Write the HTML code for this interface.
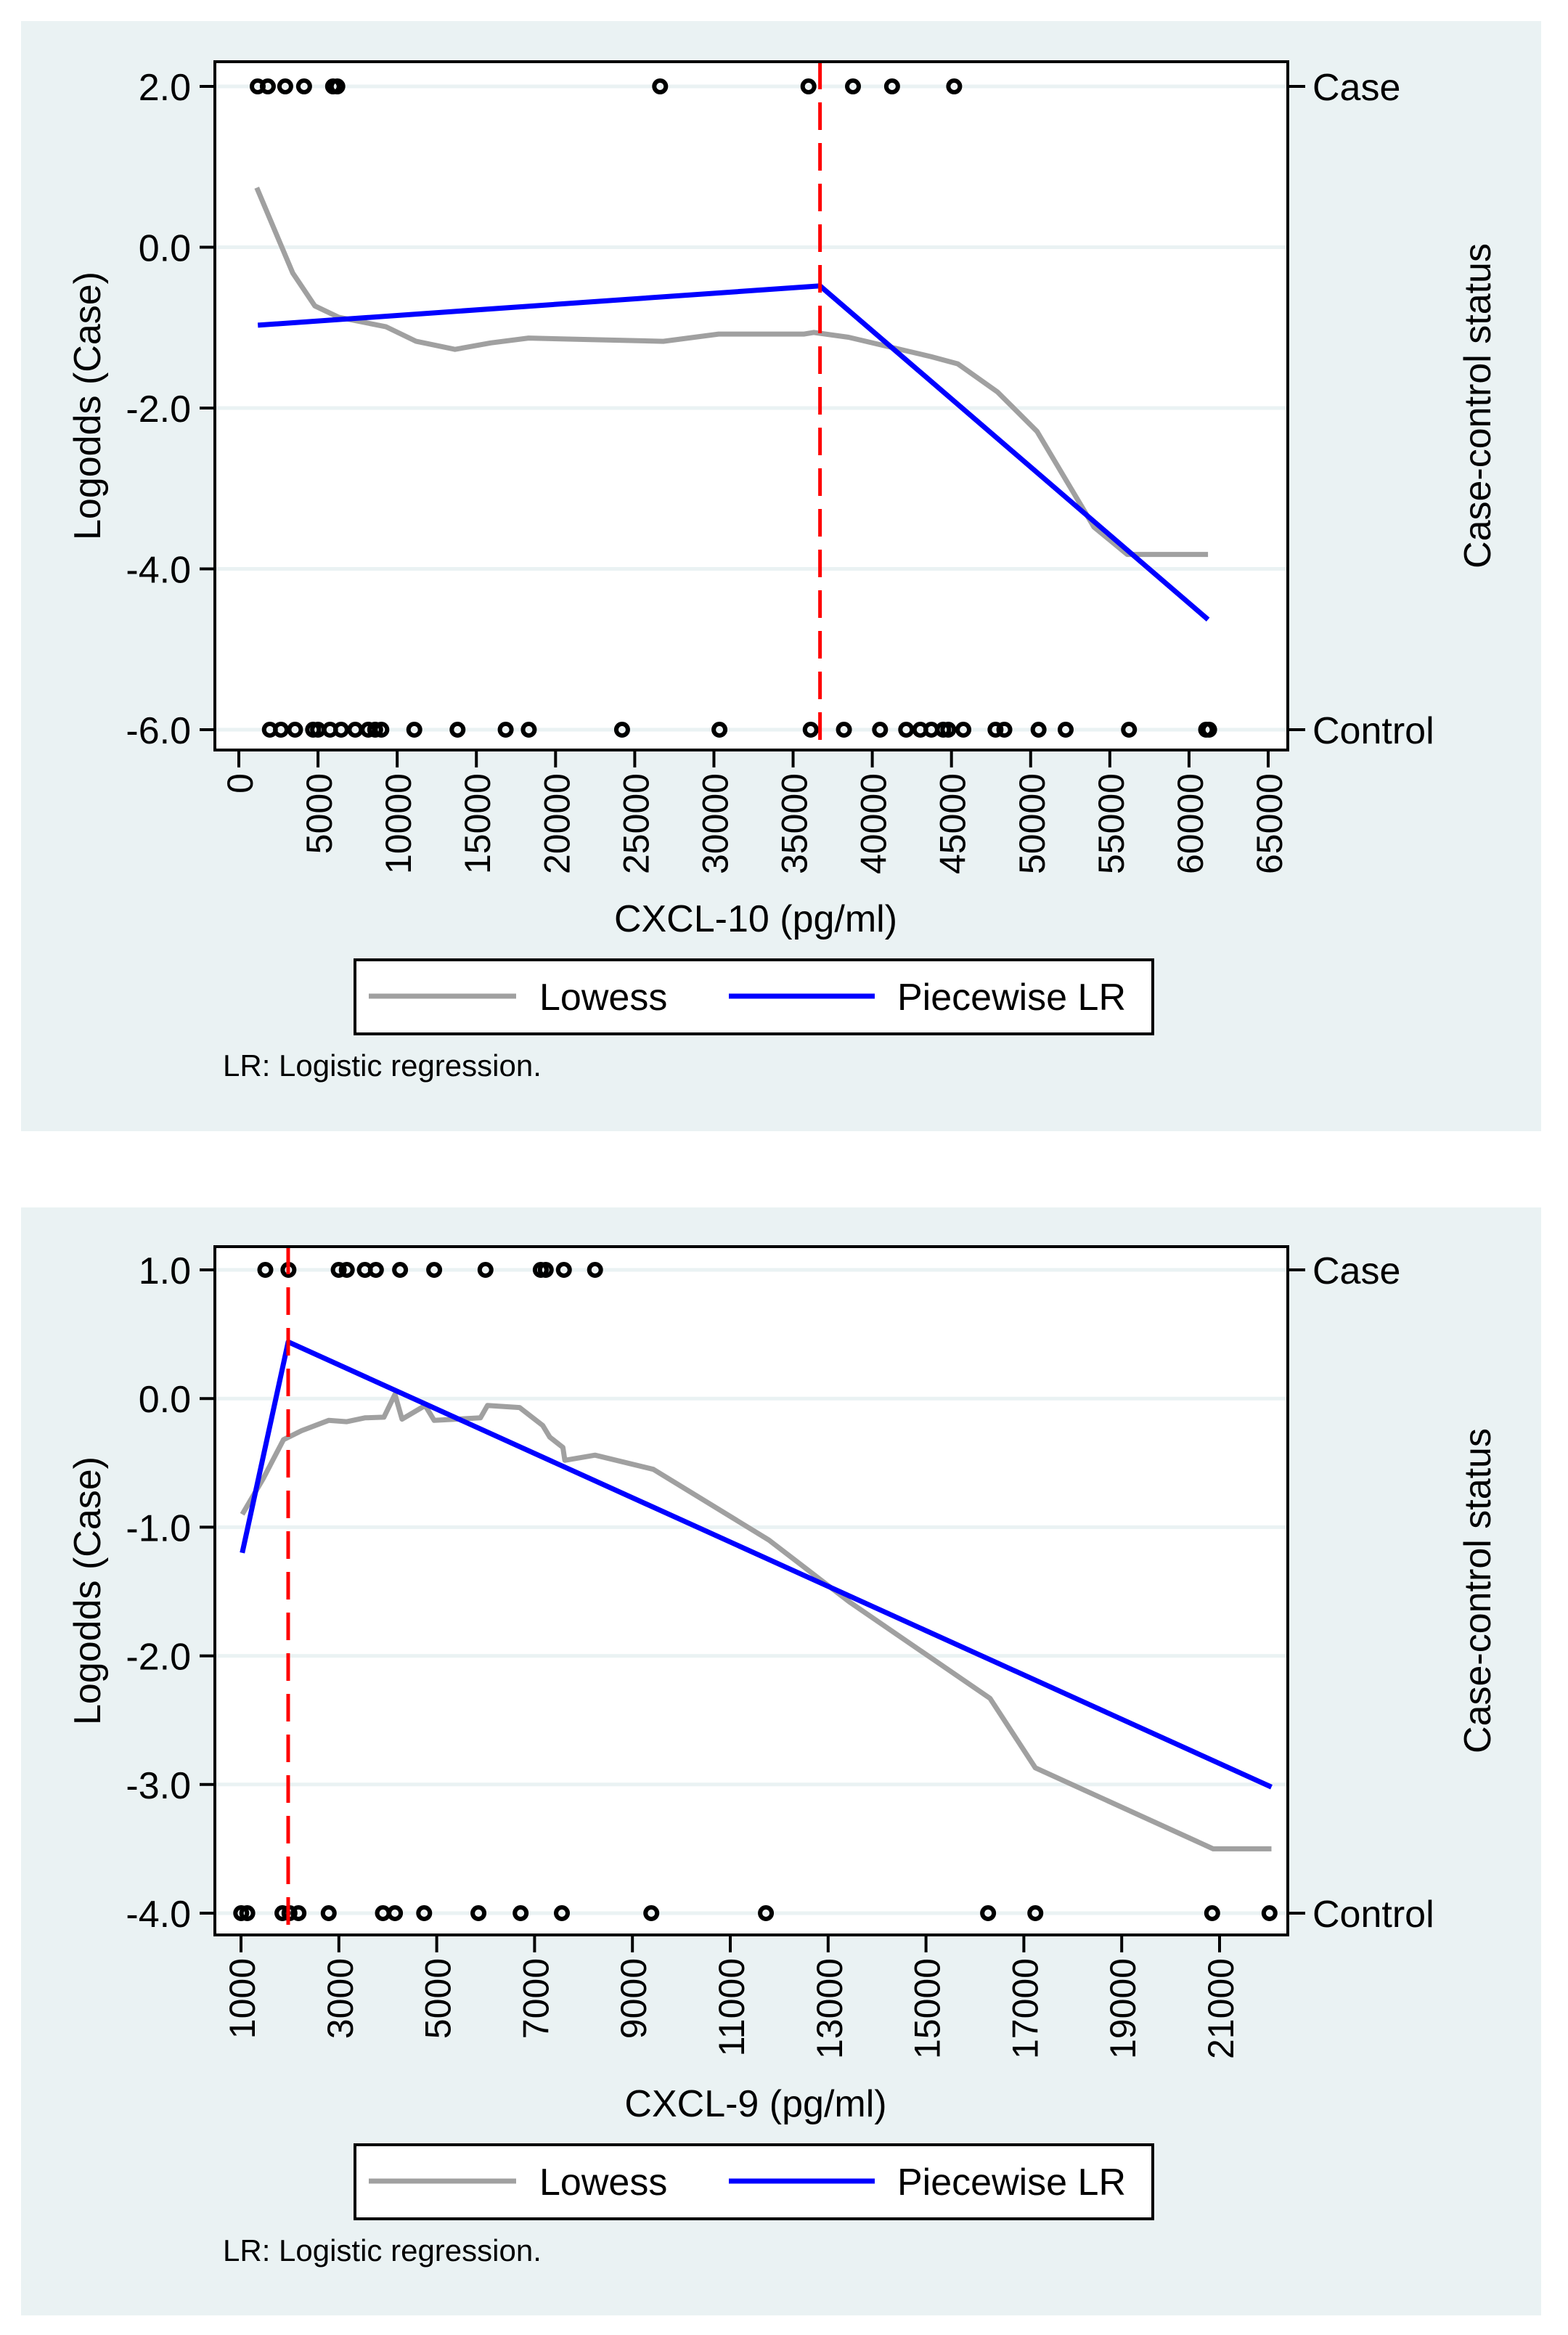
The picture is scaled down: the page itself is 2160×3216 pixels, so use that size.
<!DOCTYPE html>
<html><head><meta charset="utf-8"><style>
html,body{margin:0;padding:0;background:#fff;}
svg{display:block;}
text{font-family:"Liberation Sans",Arial,sans-serif;fill:#000;}
</style></head><body>
<svg id="fig" width="2160" height="3216" viewBox="0 0 2160 3216" xmlns="http://www.w3.org/2000/svg"></svg>
<script>
// ===== Panel A data (CXCL-10) =====
const aXTicks = [0,5000,10000,15000,20000,25000,30000,35000,40000,45000,50000,55000,60000,65000];
const aYTicks = [2,0,-2,-4,-6];
const aYTickLabels = ["2.0","0.0","-2.0","-4.0","-6.0"];
const aCaseX = [1190,1830,2930,4120,5950,6220,26600,35970,38780,41250,45170];
const aControlX = [1960,2660,3550,4690,5000,5760,6460,7350,8170,8610,9000,11080,13810,16850,18310,24200,30350,36110,38210,40490,42140,43030,43730,44480,44800,45750,47780,48340,50500,52210,56210,61080,61270];
const aLowessX = [1130,3400,4800,6300,9300,11200,13650,15900,18300,22500,26800,30300,35700,36300,38500,41300,43700,45400,47900,50400,54000,56100,61200];
const aLowessY = [0.74,-0.32,-0.73,-0.87,-0.99,-1.17,-1.27,-1.19,-1.13,-1.15,-1.17,-1.08,-1.08,-1.06,-1.12,-1.25,-1.36,-1.45,-1.80,-2.29,-3.48,-3.82,-3.82];
const aPieceX = [1200,36700,61200];
const aPieceY = [-0.97,-0.48,-4.63];
const aKnot = 36700;

// ===== Panel B data (CXCL-9) =====
const bXTicks = [1000,3000,5000,7000,9000,11000,13000,15000,17000,19000,21000];
const bYTicks = [1,0,-1,-2,-3,-4];
const bYTickLabels = ["1.0","0.0","-1.0","-2.0","-3.0","-4.0"];
const bCaseX = [1497,1970,2997,3162,3531,3757,4251,4948,5997,7126,7228,7599,8236];
const bControlX = [1004,1128,1847,1991,2175,2792,3901,4147,4743,5853,6715,7558,9386,11728,16269,17235,20849,22021];
const bLowessX = [1025,1457,1868,2237,2792,3162,3531,3922,4147,4291,4764,4948,5893,6037,6694,7168,7311,7579,7619,8236,9427,11789,13433,16309,17234,20869,22061];
const bLowessY = [-0.90,-0.62,-0.32,-0.25,-0.17,-0.18,-0.15,-0.145,0.033,-0.16,-0.054,-0.17,-0.15,-0.054,-0.07,-0.21,-0.30,-0.38,-0.48,-0.44,-0.55,-1.10,-1.58,-2.33,-2.87,-3.50,-3.50];
const bPieceX = [1025,1964,22061];
const bPieceY = [-1.2,0.44,-3.02];
const bKnot = 1964;

const NS = "http://www.w3.org/2000/svg";
const svg = document.getElementById('fig');
function mk(tag, attrs, parent, txt){
  const e = document.createElementNS(NS, tag);
  for (const k in attrs) e.setAttribute(k, attrs[k]);
  if (txt !== undefined) e.textContent = txt;
  (parent||svg).appendChild(e);
  return e;
}

function panel(o){
  const g = mk('g', {});
  
  
  const dy = o.dy;
  const bg = mk('rect', {x:29, y:o.bgTop, width:2094, height:o.bgH, fill:'#eaf2f3'}, g);
  
  
  const L=296, R=1774, T=85+dy, B=1033+dy;
  const pa = mk('rect', {x:L, y:T, width:R-L, height:B-T, fill:'#fff'}, g);
  
  
  const xs = v => o.x0 + (v - o.xv0) * (o.x1 - o.x0) / (o.xv1 - o.xv0);
  const ys = v => o.y0 + dy + (o.yv0 - v) * (o.y1 - o.y0) / (o.yv0 - o.yv1);
  o.yTicks.forEach((t,i)=>{
    const gl = mk('line', {x1:L, x2:R, y1:ys(t), y2:ys(t), stroke:'#eaf2f3', 'stroke-width':5}, g);
    
    
  });
  const lp = o.lx.map((x,i)=>xs(x).toFixed(1)+','+ys(o.ly[i]).toFixed(1)).join(' ');
  const lw = mk('polyline', {points:lp, fill:'none', stroke:'#a0a0a0', 'stroke-width':7, 'stroke-linejoin':'round'}, g);
  
  
  const pp = o.px.map((x,i)=>xs(x).toFixed(1)+','+ys(o.py[i]).toFixed(1)).join(' ');
  const pw = mk('polyline', {points:pp, fill:'none', stroke:'#0000ff', 'stroke-width':7, 'stroke-linejoin':'round'}, g);
  
  
  o.cx.forEach(x=>{
    const c = mk('circle', {cx:xs(x), cy:ys(o.yTicks[0]), r:8, fill:'none', stroke:'#000', 'stroke-width':6}, g);
    
    
  });
  o.ctl.forEach(x=>{
    const c = mk('circle', {cx:xs(x), cy:ys(o.yTicks[o.yTicks.length-1]), r:8, fill:'none', stroke:'#000', 'stroke-width':6}, g);
    
    
  });
  const kn = mk('line', {x1:xs(o.knot), x2:xs(o.knot), y1:T, y2:B, stroke:'#ff0000', 'stroke-width':5, 'stroke-dasharray':'38 18'}, g);
  
  
  const fr = mk('rect', {x:L, y:T, width:R-L, height:B-T, fill:'none', stroke:'#000', 'stroke-width':4}, g);
  
  
  o.yTicks.forEach((t,i)=>{
    mk('line', {x1:275, x2:L, y1:ys(t), y2:ys(t), stroke:'#000', 'stroke-width':4}, g);
    const tl = mk('text', {x:263, y:ys(t)+19, 'font-size':52, 'text-anchor':'end'}, g, o.yLabels[i]);
    
    
  });
  [[o.yTicks[0],'Case'],[o.yTicks[o.yTicks.length-1],'Control']].forEach(p=>{
    mk('line', {x1:R, x2:1798, y1:ys(p[0]), y2:ys(p[0]), stroke:'#000', 'stroke-width':4}, g);
    const rl = mk('text', {x:1808, y:ys(p[0])+19, 'font-size':52}, g, p[1]);
    
    
  });
  o.xTicks.forEach(t=>{
    mk('line', {x1:xs(t), x2:xs(t), y1:B, y2:B+24, stroke:'#000', 'stroke-width':4}, g);
    const xl = mk('text', {x:0, y:0, 'font-size':50, 'text-anchor':'end', transform:`translate(${xs(t)+19},${B+32}) rotate(-90)`}, g, String(t));
    
    
  });
  const yt = mk('text', {x:0, y:0, 'font-size':52, 'text-anchor':'middle', transform:`translate(138,${559+dy}) rotate(-90)`}, g, 'Logodds (Case)');
  
  
  const rt = mk('text', {x:0, y:0, 'font-size':52, 'text-anchor':'middle', transform:`translate(2053,${559+dy}) rotate(-90)`}, g, 'Case-control status');
  
  
  const xt = mk('text', {x:1041, y:1283+dy, 'font-size':52, 'text-anchor':'middle'}, g, o.xTitle);
  
  
  const lg = mk('g', {}, g);
  
  
  mk('rect', {x:489, y:1322+dy, width:1099, height:102, fill:'#fff', stroke:'#000', 'stroke-width':4}, lg);
  const l1 = mk('line', {x1:508, x2:711, y1:1372+dy, y2:1372+dy, stroke:'#a0a0a0', 'stroke-width':7}, lg);
  
  
  const t1 = mk('text', {x:743, y:1391+dy, 'font-size':52}, lg, 'Lowess');
  
  
  const l2 = mk('line', {x1:1004, x2:1205, y1:1372+dy, y2:1372+dy, stroke:'#0000ff', 'stroke-width':7}, lg);
  
  
  const t2 = mk('text', {x:1236, y:1391+dy, 'font-size':52}, lg, 'Piecewise LR');
  
  
  const nt = mk('text', {x:307, y:1482+dy, 'font-size':42}, g, 'LR: Logistic regression.');
  
  
}

panel({name:'cxcl10-panel', dy:0, bgTop:29, bgH:1529,
  x0:329, x1:1747, xv0:0, xv1:65000, y0:119, y1:1005, yv0:2, yv1:-6,
  xTicks:aXTicks, yTicks:aYTicks, yLabels:aYTickLabels, cx:aCaseX, ctl:aControlX,
  lx:aLowessX, ly:aLowessY, px:aPieceX, py:aPieceY, knot:aKnot, xTitle:'CXCL-10 (pg/ml)'});
panel({name:'cxcl9-panel', dy:1632, bgTop:1663, bgH:1526,
  x0:332, x1:1680, xv0:1000, xv1:21000, y0:117, y1:1003, yv0:1, yv1:-4,
  xTicks:bXTicks, yTicks:bYTicks, yLabels:bYTickLabels, cx:bCaseX, ctl:bControlX,
  lx:bLowessX, ly:bLowessY, px:bPieceX, py:bPieceY, knot:bKnot, xTitle:'CXCL-9 (pg/ml)'});
</script>
</body></html>
